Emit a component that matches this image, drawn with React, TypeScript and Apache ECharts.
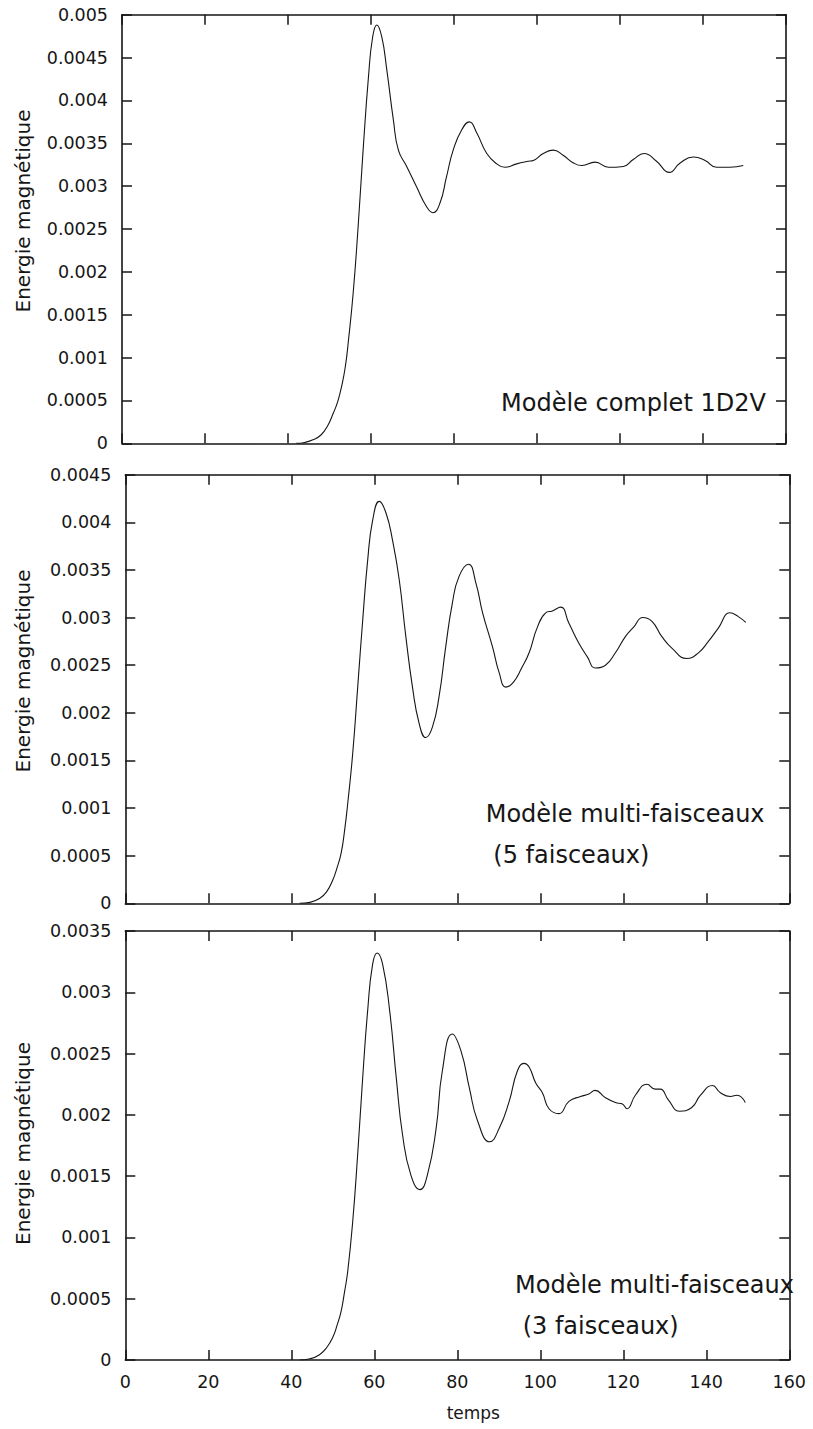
import React, { useEffect, useRef } from "react";
import * as echarts from "echarts";

// temps (x) and énergie magnétique (y) for each panel
const t1 = [42, 44, 46, 48, 49.5, 50.9, 52, 52.9, 53.8, 54.5, 55.7, 56.9, 58.1, 59.4, 60.4, 61.4, 62.6, 63.8, 65.4, 66.6, 68.6, 71.0, 73.4, 74.9, 76.6, 78.2, 79.8, 81.9, 83.7, 85.5, 87.9, 90.3, 92.3, 95.1, 97.9, 99.1, 101.5, 103.9, 106.3, 108.8, 110.8, 114.0, 117.2, 120.8, 123.2, 125.8, 128.8, 131.9, 134.5, 137.7, 140.5, 143.3, 146.5, 149.7];
const e1 = [0, 0.00001, 0.00004, 0.0001, 0.0002, 0.00035, 0.00049, 0.00066, 0.00089, 0.00117, 0.00175, 0.00253, 0.00342, 0.00428, 0.00474, 0.00488, 0.00474, 0.00436, 0.00377, 0.00342, 0.00323, 0.00299, 0.00276, 0.00269, 0.0028, 0.00311, 0.00342, 0.00366, 0.00375, 0.00362, 0.00338, 0.00326, 0.00322, 0.00326, 0.00329, 0.0033, 0.00338, 0.00342, 0.00336, 0.00327, 0.00324, 0.00328, 0.00322, 0.00323, 0.00331, 0.00338, 0.00329, 0.00316, 0.00327, 0.00334, 0.0033, 0.00322, 0.00322, 0.00324];

const t2 = [42, 44.5, 46.8, 48.5, 50, 51, 52, 52.8, 53.6, 54.8, 56, 57.2, 58.4, 59.6, 61.2, 62.8, 64.4, 66, 67.6, 69.2, 70.8, 72.4, 74, 75.6, 77.2, 78.8, 80.4, 82.7, 84.5, 86.1, 88.5, 90.1, 91.7, 93.5, 95.5, 97.3, 99.3, 101.3, 102.9, 104.9, 106.9, 109.3, 111.3, 113.3, 115.7, 118.1, 120.5, 122.5, 124.7, 126.9, 129.3, 131.7, 135.3, 138.1, 140.5, 142.9, 145.7, 147.7, 149.5];
const e2 = [0, 0.00001, 0.00005, 0.00012, 0.000245, 0.00037, 0.000525, 0.00075, 0.00105, 0.001575, 0.00227, 0.00297, 0.0036, 0.00402, 0.00422, 0.0041, 0.00381, 0.0034, 0.0028, 0.00227, 0.00189, 0.00174, 0.00185, 0.00217, 0.00269, 0.00315, 0.00343, 0.00356, 0.00336, 0.00305, 0.00269, 0.00242, 0.00227, 0.00232, 0.00247, 0.00263, 0.0029, 0.00305, 0.00307, 0.00311, 0.00294, 0.00273, 0.00259, 0.00247, 0.0025, 0.00263, 0.0028, 0.0029, 0.003, 0.00296, 0.0028, 0.00268, 0.00257, 0.00263, 0.00275, 0.00289, 0.00305, 0.00301, 0.00295];

const t3 = [42, 44.5, 46.8, 48.5, 50.1, 51, 52, 52.8, 53.6, 54.8, 56, 57.2, 58.4, 59.6, 60.7, 62, 63.7, 65.3, 66.8, 68.8, 71, 72.8, 74.9, 76.4, 78.8, 80.9, 82.9, 84.9, 87.8, 90.1, 92.5, 94.5, 96.1, 97.3, 98.9, 100.5, 102.1, 104.5, 106.9, 109.7, 111.7, 113.2, 115.7, 118.1, 119.7, 120.9, 122.9, 125.7, 127.7, 128.9, 130.9, 133.5, 136.5, 138.6, 141.5, 143.4, 145.8, 147.4, 149.4];
const e3 = [0, 0.00001, 0.000043, 0.0001, 0.000193, 0.00028, 0.000397, 0.00055, 0.000724, 0.00113, 0.00168, 0.0023, 0.00285, 0.00323, 0.00332, 0.00323, 0.00285, 0.0023, 0.00184, 0.00151, 0.00139, 0.00151, 0.00189, 0.00236, 0.00266, 0.00252, 0.00222, 0.00195, 0.00178, 0.00189, 0.00211, 0.00236, 0.00242, 0.00239, 0.00226, 0.00218, 0.00205, 0.00201, 0.00211, 0.00215, 0.00217, 0.0022, 0.00214, 0.0021, 0.00209, 0.00205, 0.00216, 0.00225, 0.00221, 0.00221, 0.00212, 0.00203, 0.00206, 0.00216, 0.00224, 0.00218, 0.00215, 0.00216, 0.0021];

const yMax = [0.005, 0.0045, 0.0035];
const yStep = 0.0005;
const xMin = 0;
const xMax = 160;
const xStep = 20;
const yName = "Energie magnétique";
const xName = "temps";
const notes = [
  ["Modèle complet 1D2V"],
  ["Modèle multi-faisceaux", " (5 faisceaux)"],
  ["Modèle multi-faisceaux", " (3 faisceaux)"],
];

const FONT = "DejaVu Sans";
const INK = "#161616";

export default function App() {
  const ref = useRef<HTMLDivElement>(null);
  useEffect(() => {
    if (!ref.current) return;
    const chart = echarts.init(ref.current, null, { renderer: "svg" });
    const grids = [
      { left: 122, top: 14.7, width: 664, height: 428.6 },
      { left: 125.3, top: 474.7, width: 664, height: 428.6 },
      { left: 125.3, top: 931, width: 664, height: 429 },
    ];
    const series = [
      [t1, e1],
      [t2, e2],
      [t3, e3],
    ];
    const lineStyle = { color: INK, width: 1.6 };
    const axisLine = { show: true, onZero: false, lineStyle };
    const tick = { show: true, inside: true, length: 10, lineStyle: { color: INK, width: 1.5 } };
    const xAxis: any[] = [];
    const yAxis: any[] = [];
    const yNamePad = [[0, 0, 0, 36], [0, 0, 0, 36], [0, 0, 0, 4]];
    grids.forEach((g, i) => {
      const last = i === 2;
      xAxis.push({
        type: "value", gridIndex: i, min: xMin, max: xMax, interval: xStep, position: "bottom",
        axisLine, axisTick: tick, splitLine: { show: false },
        axisLabel: { show: last, margin: 13, fontFamily: FONT, fontSize: 17.5, color: INK },
        name: last ? xName : "", nameLocation: "middle", nameGap: 44,
        nameTextStyle: { fontFamily: FONT, fontSize: 17, color: INK, padding: [0, 0, 0, 32] },
      });
      xAxis.push({
        type: "value", gridIndex: i, min: xMin, max: xMax, interval: xStep, position: "top",
        axisLine, axisTick: tick, splitLine: { show: false },
        axisLabel: { show: false },
      });
      yAxis.push({
        type: "value", gridIndex: i, min: 0, max: yMax[i], interval: yStep, position: "left",
        axisLine, axisTick: tick, splitLine: { show: false },
        axisLabel: { margin: 14, fontFamily: FONT, fontSize: 17.5, color: INK, showMinLabel: true, showMaxLabel: true },
        name: yName, nameLocation: "middle", nameGap: i === 0 ? 89 : 92,
        nameTextStyle: { fontFamily: FONT, fontSize: 20, color: INK, padding: yNamePad[i] },
      });
      yAxis.push({
        type: "value", gridIndex: i, min: 0, max: yMax[i], interval: yStep, position: "right",
        axisLine, axisTick: tick, splitLine: { show: false },
        axisLabel: { show: false },
      });
    });
    const noteAnchors = [
      { x: 501, y: [403] },
      { x: 485.7, y: [814, 855] },
      { x: 515, y: [1285, 1326] },
    ];
    const graphic: any[] = [];
    notes.forEach((lines, i) => {
      lines.forEach((txt, j) => {
        graphic.push({
          type: "text",
          x: noteAnchors[i].x,
          y: noteAnchors[i].y[j],
          style: { text: txt, font: `24px "${FONT}"`, fill: INK, verticalAlign: "middle", align: "left" },
          z: 10,
        });
      });
    });
    chart.setOption({
      animation: false,
      backgroundColor: "#ffffff",
      grid: grids,
      xAxis,
      yAxis,
      graphic,
      series: series.map(([ts, es], i) => ({
        type: "line",
        xAxisIndex: i * 2,
        yAxisIndex: i * 2,
        data: ts.map((t, k) => [t, es[k]]),
        showSymbol: false,
        smooth: 0.5,
        lineStyle: { color: INK, width: 1.1 },
      })),
    });
    return () => chart.dispose();
  }, []);
  return (
    <div
      ref={ref}
      style={{ position: "absolute", left: 0, top: 0, width: 813, height: 1429, background: "#fff" }}
    />
  );
}
